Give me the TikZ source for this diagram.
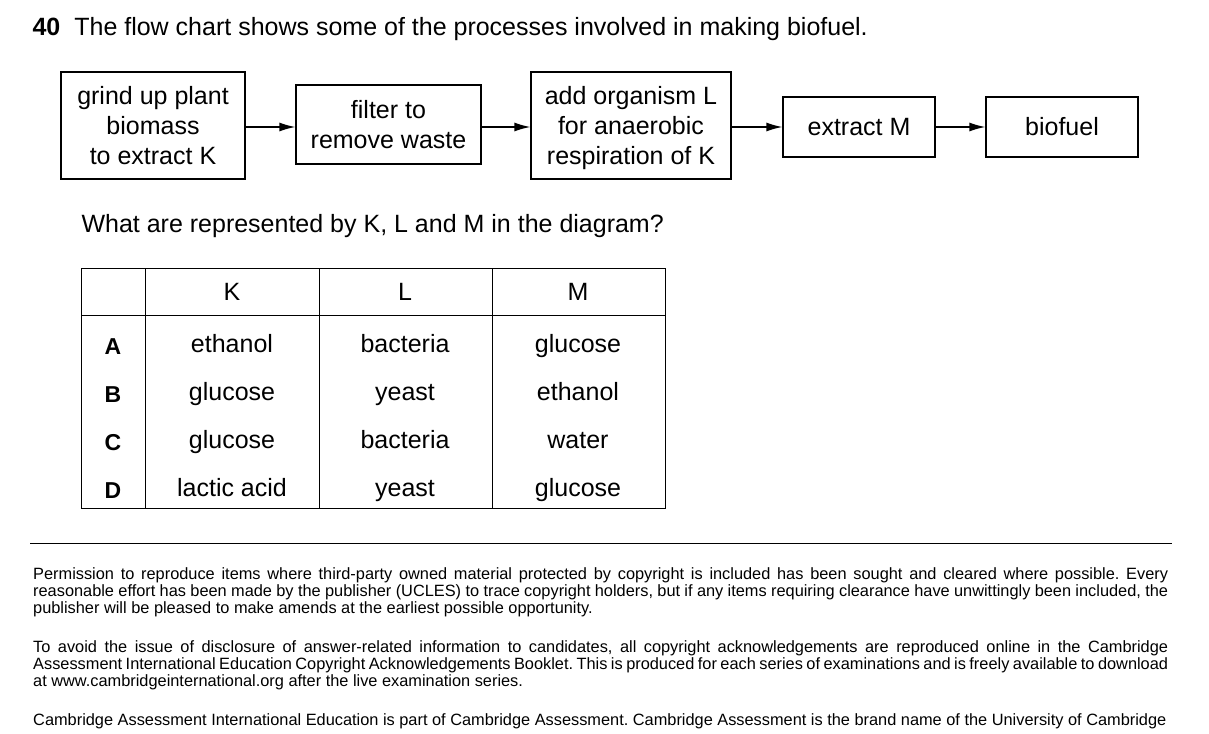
\documentclass[tikz,border=0pt]{standalone}
\usepackage{fontspec}
\setmainfont{Liberation Sans}
\usetikzlibrary{arrows.meta}
\newcommand{\nohyph}{\hyphenpenalty=10000\relax\exhyphenpenalty=10000\relax\frenchspacing}
\begin{document}
\begin{tikzpicture}[x=1pt,y=-1pt,
  box/.style={draw,line width=1.3pt,align=center,font=\fontsize{25}{30}\selectfont,inner sep=0},
  arr/.style={line width=1.3pt,-{Latex[length=16pt,width=9pt]}},
  cell/.style={font=\fontsize{25}{28}\selectfont},
  foot/.style={anchor=north west,text width=1135pt,align=justify,inner sep=0,font=\fontsize{16.35}{17.3}\selectfont\nohyph}]
\useasboundingbox (0,0) rectangle (1209,733);
\node[anchor=west,font=\fontsize{25}{28}\selectfont] (q) at (29,29) {\textbf{40}\hspace{14pt}The flow chart shows some of the processes involved in making biofuel.};
\node[box,minimum width=184pt,minimum height=107pt,text depth=-4pt] (b1) at (153,125.5) {grind up plant\\biomass\\to extract K};
\node[box,minimum width=185pt,minimum height=79pt] (b2) at (388.5,124.5) {filter to\\remove waste};
\node[box,minimum width=200pt,minimum height=107pt,text depth=-4pt] (b3) at (631,125.5) {add organism L\\for anaerobic\\respiration of K};
\node[box,minimum width=152pt,minimum height=60pt] (b4) at (859,127) {extract M};
\node[box,minimum width=152pt,minimum height=60pt] (b5) at (1062,127) {biofuel};
\draw[arr] (b1.east|-0,127) -- (b2.west|-0,127);
\draw[arr] (b2.east|-0,127) -- (b3.west|-0,127);
\draw[arr] (b3.east|-0,127) -- (b4.west);
\draw[arr] (b4.east) -- (b5.west);
\node[anchor=west,font=\fontsize{25}{28}\selectfont] (q2) at (78,226) {What are represented by K, L and M in the diagram?};
\draw[line width=1pt] (81,268) rectangle (665,508);
\draw[line width=1pt] (81,315) -- (665,315);
\foreach \x in {145,319,492} \draw[line width=1pt] (\x,268) -- (\x,508);
\node[cell] (hK) at (232,292) {K};
\node[cell] (hL) at (405,292) {L};
\node[cell] (hM) at (578,292) {M};
\foreach \r/\y/\k/\l/\m in {A/347/ethanol/bacteria/glucose,B/395/glucose/yeast/ethanol,C/443/glucose/bacteria/water,D/491/lactic acid/yeast/glucose}{
  \node[cell,font=\fontsize{23}{26}\selectfont\bfseries] (r\r) at (113,\y) {\r};
  \node[cell] (k\r) at (232,\y) {\strut\k};
  \node[cell] (l\r) at (405,\y) {\strut\l};
  \node[cell] (m\r) at (578,\y) {\strut\m};
}
\draw[line width=1pt] (30,543) -- (1172,543);
\node[foot] (f1) at (33,567) {Permission to reproduce items where third-party owned material protected by copyright is included has been sought and cleared where possible. Every reasonable effort has been made by the publisher (UCLES) to trace copyright holders, but if any items requiring clearance have unwittingly been included, the publisher will be pleased to make amends at the earliest possible opportunity.};
\node[foot] (f2) at (33,640) {To avoid the issue of disclosure of answer-related information to candidates, all copyright acknowledgements are reproduced online in the Cambridge Assessment International Education Copyright Acknowledgements Booklet. This is produced for each series of examinations and is freely available to download at www.cambridgeinternational.org after the live examination series.};
\node[foot] (f3) at (33,713) {Cambridge Assessment International Education is part of Cambridge Assessment. Cambridge Assessment is the brand name of the University of Cambridge\hfill\null};
\end{tikzpicture}
\end{document}
